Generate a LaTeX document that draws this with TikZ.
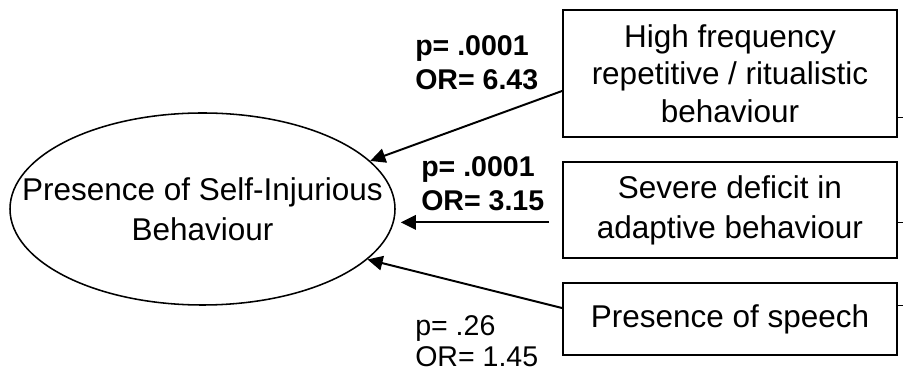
\documentclass[tikz,border=0pt]{standalone}
\usepackage{fontspec}
\setmainfont{Liberation Sans}
\usetikzlibrary{arrows.meta}
\usetikzlibrary{shapes.geometric}

\tikzset{
  factor/.style={draw,line width=1.4pt,rectangle,minimum width=8.35cm,align=center,font=\fontsize{22.4}{28.4}\selectfont},
  stat/.style={anchor=north west,inner sep=0pt,align=left,font=\fontsize{20.3}{24.2}\selectfont\bfseries},
  pathway/.style={line width=1.4pt,-{Triangle[length=0.38cm,width=0.36cm]}},
}

\begin{document}
\begin{tikzpicture}
\useasboundingbox (0,0) rectangle (22.575,9.325);
\node[draw,ellipse,line width=1.1pt,minimum width=9.625cm,minimum height=4.8cm] (sib) at (5.0625,4.1) {};
\node[align=center,font=\fontsize{22.4}{28.4}\selectfont] (sibtext) at (sib) {Presence of Self-Injurious\\Behaviour};

\node[factor,minimum height=3.175cm,font=\fontsize{22.4}{26.7}\selectfont] (rrb) at (18.25,7.4875) {High frequency\\repetitive / ritualistic\\behaviour};
\node[factor,minimum height=2.4cm] (adb) at (18.25,4.075) {Severe deficit in\\adaptive behaviour};
\node[factor,minimum height=1.8cm] (spe) at (18.25,1.35) {Presence of speech};

\coordinate (o1) at (22.8,6.4);
\coordinate (o2) at (22.8,3.775);
\coordinate (o3) at (22.8,1.7);
\draw[thin] (rrb.east |- o1) -- (o1);
\draw[thin] (adb.east |- o2) -- (o2);
\draw[thin] (spe.east |- o3) -- (o3);

\draw[pathway] ([yshift=-0.4375cm]rrb.west) -- (sib.16);
\coordinate (t2) at ([xshift=0.17cm]sib.-4);
\coordinate (s2) at ([xshift=-0.325cm]adb.west);
\draw[pathway] (s2 |- t2) -- (t2);
\draw[pathway] ([yshift=0.275cm]spe.west) -- (sib.-17);

\node[stat] (or1) at (10.375,8.435) {p= .0001\\OR= 6.43};
\node[stat] (or2) at (10.525,5.41) {p= .0001\\OR= 3.15};
\node[stat,font=\fontsize{20.3}{22}\selectfont] (or3) at (10.375,1.44) {p= .26\\OR= 1.45};

\end{tikzpicture}
\end{document}
